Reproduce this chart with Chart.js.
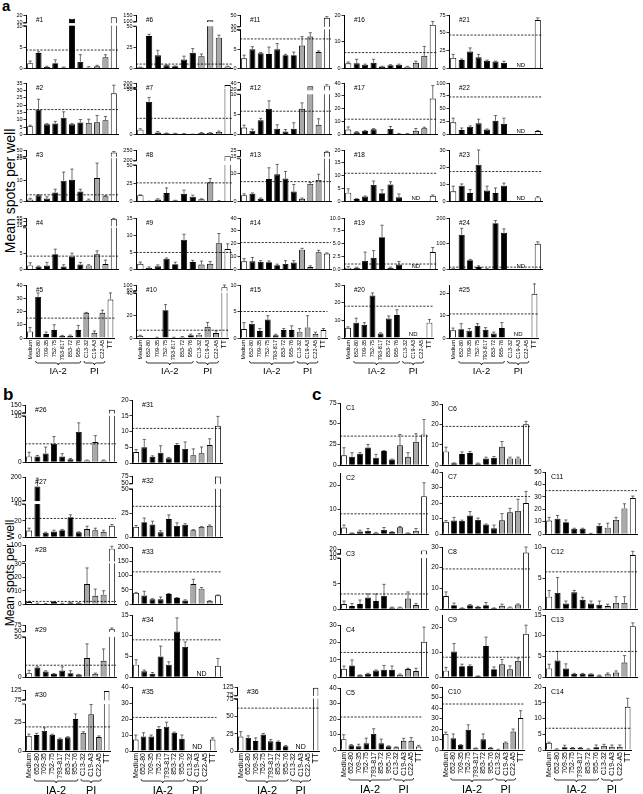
<!DOCTYPE html>
<html><head><meta charset="utf-8">
<script src="https://cdn.jsdelivr.net/npm/chart.js@4.4.1/dist/chart.umd.min.js"></script>
<style>
html,body{margin:0;padding:0;background:#fff;}
body{width:643px;height:794px;position:relative;overflow:hidden;font-family:'Liberation Sans',Arial,Helvetica,sans-serif;color:#000;}
canvas{position:absolute;}
.sec{position:absolute;font-weight:bold;line-height:1;}
.yt{position:absolute;white-space:nowrap;text-align:center;transform:rotate(-90deg);transform-origin:50% 50%;}
</style></head><body>
<div class="sec" style="left:2px;top:-2px;font-size:15px">a</div>
<div class="sec" style="left:3px;top:386px;font-size:17px">b</div>
<div class="sec" style="left:312px;top:386px;font-size:17px">c</div>
<div class="yt" style="left:-62px;top:183px;width:144px;height:16px;line-height:16px;font-size:14px">Mean spots per well</div>
<div class="yt" style="left:-52px;top:566px;width:124px;height:14px;line-height:14px;font-size:12px">Mean spots per well</div>
<script>
// ---------------- data ----------------
const categories = ["Medium","652-80","709-35","752-75","793-817","853-72","955-76","C13-32","C19-A3","C22-A5","TT"];
const groupLabels = ["IA-2","PI"];

// section a
const s1=[1.3,3.7,0.4,1.3,0.3,15,1.6,0.3,0.6,2.7,17],      e1=[0.5,0.3,0.2,0.8,0.1,0,1.7,0.2,0.2,0.6,0];
const s2=[5.8,17,7,7.5,11.5,7,8.3,8,8.5,9.8,28],            e2=[0.6,7,0.5,1.5,4,0.5,2,2.5,4.5,2.5,5.5];
const s3=[1,3,1.5,4.3,9.8,10.2,4.8,0.7,11,2.5,40],          e3=[0.6,0.3,0.8,1.5,4,5,1,0.5,7,0.3,4];
const s4=[1.3,1,1.3,4.7,1,4,1.6,1.3,4.7,1.7,50],            e4=[0.8,0.1,0.9,1.5,0.5,1,0.6,0.2,1,1.2,3];
const s5=[5,31,3,6,1.7,1.7,6,19,3.8,19,29],                 e5=[3,3,1.5,4,0.3,0.5,3.5,0.3,1.5,2,5];
const s6=[1.7,39,16,4,3,11,19,15,110,37,2.5],               e6=[0.3,2,6,0.5,0.3,4,5,2.5,0,3,0.5];
const s7=[5.5,36,2.5,1.5,1.2,1,0.5,1.8,1.8,3,150],          e7=[1,5,1,0.3,0.3,0.3,0.2,0.5,0.5,1,0];
const s8=[9,0.5,3,12,1.5,11,7,3.5,27,1,220],                e8=[0.5,0.3,1,7,0.5,5,2,0.5,5,0.5,0];
const s9=[1.7,0.6,1,3.2,1.6,8.7,2.2,1.5,1.7,7.7,6],         e9=[0.5,0.2,0.4,0.2,0.6,1.6,0.5,1,0.7,2.8,1.5];
const s10=[2,0,0.5,25,0.5,1,2.5,3,10,4.5,85],               e10=[0.5,0,0.2,5,0.2,0.3,1,1,4,2,15];
const s11=[2.7,5,4,3.8,5,3.5,3.5,6,8.3,4.3,45],             e11=[0.8,0.7,0.2,1.8,1.5,0.2,0.8,2.3,1,0.3,2];
const s12=[1.8,1,3.6,6.5,1.5,0.8,1.5,6.5,30,2.5,32],        e12=[0.6,0.4,0.5,2,1,0.5,1.5,1.5,0,1.5,3];
const s13=[2.3,2.8,1,8,9.7,8.2,3.6,1,6.3,7.7,22],           e13=[0.5,0.3,0.3,4,3.5,2.5,2.5,0.3,0.5,2,1];
const s14=[6.5,6.5,6,5.8,3.5,4.5,5.5,15.5,2,13.5,12.5],     e14=[2,3,1,1,0.8,2.5,1.5,1,1,1.5,0.5];
const s15=[1.7,2.7,1.3,3.5,0.5,1.5,1.5,1.2,2,0.8,1.5],      e15=[1.2,0.4,0.5,0.7,0.2,0.3,0.8,0.6,2.2,0.3,0.3];
const s16=[2,2,1.5,2.2,0.8,1.3,1.5,0.7,2.2,4.8,16.3],       e16=[0.5,1.5,0.2,1.3,0.1,0.2,0.2,0.2,0.6,3.5,1.3];
const s17=[4,1.8,3,4.2,0,4.5,0.8,0.8,3,5,28],               e17=[2,0.6,0.3,0.5,0,1.8,0.2,0.2,1.8,0.8,10];
const s18=[3.5,1,2,6.5,3.3,6.7,1.7,null,null,null,2.3],     e18=[1.5,0.2,0.2,1.5,1.3,1,1.3,0,0,0,0.3];
const s19=[0.4,0.4,1.7,2.3,6.3,0.4,1,null,null,null,3.4],   e19=[0.2,0.1,1.7,1.4,2.3,0.1,0.6,0,0,0,0.9];
const s20=[5.8,8.7,7.5,24,2.5,11,13,null,null,null,8.7],    e20=[0.5,2.5,1.2,1.5,0.5,1.5,3,0,0,0,1.8];
const s21=[15,12,24,16,11,10,8,null,null,null,68],          e21=[5,1.5,5,4,1,0.5,2.5,0,0,0,3];
const s22=[24,9,15,22,10,27,21,null,null,null,7],           e22=[8,4,2,8,1,10,11,0,0,0,1];
const s23=[6,9.3,5,21.5,6.5,5,9.3,null,null,null,2.5],      e23=[3,1,2,8.5,2.5,3,1.5,0,0,0,0.5];
const s24=[3,135,37,10,3,180,143,null,null,null,100],       e24=[1,25,3,5,1,10,15,0,0,0,8];
const s25=[3.5,4,3.3,5.5,3.7,2,4.5,null,null,null,20],      e25=[1,2.5,1,1,1,0.7,2.5,0,0,0,4.5];
// section b
const s26=[1.25,1.25,1.9,4,1.25,0.6,6.6,0.35,4.4,0.35,120], e26=[0.9,0.2,1.4,1.6,0.6,0.2,2,0.1,1.4,0.1,0];
const s27=[8,160,5.5,7,8.5,24.5,6,10,8.5,6.5,14],           e27=[3,35,0.5,1.5,1,3,0.5,3.5,2.5,2,1.5];
const s28=[1.5,0.5,0.3,1.5,0.5,1.2,0.8,15,6.2,7,85],        e28=[0.5,0.2,0.1,0.4,0.1,0.3,0.2,12,5,3,10];
const s29=[5,12,7,4,8.3,5,3.2,24,4,20.6,58],                e29=[3.6,1,1,0.5,4.7,3,0.3,18,1,15,5];
const s30=[13,13.8,17.3,14,10.6,11.8,27.6,15.6,31.7,12,120],e30=[1.5,1.5,2.7,0.5,0.5,0.5,4.4,1,9.3,1,0];
const s31=[3.5,5,2,3.3,1.5,5.7,4.5,2.5,3.1,5.7,11.8],       e31=[0.8,2.5,0.3,2.2,0.3,0.5,2.2,2,2,2,3];
const s32=[10.7,15.7,13.3,5,19,11.7,13,7.3,10.7,11.7,73],   e32=[1.5,4.3,3.4,1.7,4.3,3.3,1,0.5,0.5,1,0];
const s33=[39,30,17,17,35,21,13,70,54,11,31],               e33=[2,15,2,8,2,2,2,17,4,1,1];
const s34=[3,1.4,0.8,5,3,11,7.3,null,null,null,2.7],        e34=[1.2,0.3,0.3,2.5,0.7,3.3,1.2,0,0,0,1.8];
const s35=[7.2,9,9,13.7,15.2,11.4,7.6,null,null,null,7.2],  e35=[2.8,2.4,1,1.5,2.8,0.4,2.4,0,0,0,1];
const s36=[21,19,14.5,24,14,13,7,null,null,null,120],       e36=[7,3,4.5,1.5,2.5,1.5,1,0,0,0,0];
// section c
const c1=[11.8,10,13.6,21.4,9,17,6.8,24,10,28,37],          ec1=[9.2,5,1.5,3.6,4,0.7,0.5,13,5,10,18];
const c2=[2.7,0.4,1.1,1.3,0.5,1.7,0.9,2.8,0.4,1.3,15.5],    ec2=[1,0.1,0.5,1,0.2,1,0.1,0.3,0.1,1,5.5];
const c3=[1,0.6,1,2.3,1.6,2.6,0.3,0.3,2.1,0.8,17],          ec3=[0.6,0.5,0.8,0.7,1.4,2.3,0.1,0.1,1.3,0.3,0];
const c4=[4.8,6.7,1,1.9,3.8,4.2,4.2,1.3,4.6,3.5,20.3],      ec4=[1.6,3.2,0.3,0.3,0.3,2.5,2.2,0.5,0.5,1.6,8.5];
const c5=[7,3,2.4,4.3,10.4,4.3,2.4,1.7,5.9,5.9,2.2],        ec5=[2.8,0.5,1.3,3.3,3.3,2.7,0.3,0.3,1.7,2.1,0.8];
const c6=[6.7,0.9,5.4,5.9,0.8,3.3,3.6,9,3.3,3.3,20],        ec6=[2.1,0.2,1.1,0.8,0.2,0.6,0.6,2.6,0.6,0.6,1.5];
const c7=[7.9,8.7,8.5,12,9.1,6.2,3.7,8.9,14,14.9,20],       ec7=[0.8,2.1,0.5,2.5,1.2,0.3,2.1,4.3,2.6,7.5,7.5];
const c8=[6.3,1.9,0.5,1.9,1,1.9,0.5,1.6,0.8,2.2,27.3],      ec8=[2,1,0.1,0.3,0.3,1.3,0.1,0.8,0.2,0.3,2.7];
const c9=[2.6,10.3,4.4,4.5,0.4,12.5,3.2,5.2,3.2,6.5,17.4],  ec9=[1.3,3.2,0.8,0.4,0.1,3.6,0.9,1.9,1.3,1.2,3.5];
const c10=[15.3,11.2,4.8,19.2,1.6,10.2,2.2,0.6,7,17.6,30.4],ec10=[1.7,4.1,0.3,4.8,0.3,5.1,0.3,0.1,0.6,2.4,7];
const c11=[10.9,12.4,9.6,4.4,4.4,0.5,6.7,5.2,11.4,20.7,29], ec11=[2.6,2.6,1.8,0.3,0.3,0.1,1.6,3.6,2.1,3.7,1.6];
const c12=[2,2.6,0.9,2.7,1.5,0.9,0.7,0.5,1,1,8.7],          ec12=[1,2.5,0.4,0.3,0.4,0.4,0.6,0.3,1,1,0.6];
const c13=[2.1,4,2.1,0.8,0.8,0.7,0.4,0.7,1.1,3.5,12.3],     ec13=[1,2.2,1.1,0.1,0.1,0.1,0.1,0.3,0.4,1.7,0.8];
const c14=[2.3,0.3,0.9,0.7,0.7,0.3,0.9,1.3,1,1,13.7],       ec14=[0.2,0.1,0.6,0.1,0.1,0.1,0.7,0.5,0.6,0.6,2.7];

// thresholds (dashed lines)
const thresholds = {"#1":4.4,"#2":17,"#3":3.2,"#4":4.1,"#5":15,"#6":5.5,"#7":18,"#8":26,"#9":5,"#10":7,
 "#11":7.7,"#12":5.9,"#13":7.1,"#14":21,"#15":5,"#16":6,"#17":12,"#18":11,"#19":1.1,"#20":18,
 "#21":47,"#22":73,"#23":17.5,"#24":10,"#25":10.9,"#26":4,"#27":23,"#28":2,"#29":15,"#30":20.8,
 "#31":11,"#32":32.3,"#33":113,"#34":9,"#35":21,"#36":62,
 "C1":35,"C2":8.3,"C3":3,"C4":14.2,"C5":21.3,"C6":19,"C7":24.2,"C8":19.4,"C9":8,"C10":43.8,
 "C11":35,"C12":6,"C13":6.2,"C14":6.9};

// y tick values (lower segment) and upper segment of broken axes
const t0_10_20=[0,10,20], t0_40=[0,10,20,30,40];
const panels = [
 {name:"#1", v:s1, e:e1, ticks:[0,5,10], up:[10,20], lowerMax:10, lf:.79, gf:.07},
 {name:"#2", v:s2, e:e2, ticks:[0,5,10,15,20,25,30,35]},
 {name:"#3", v:s3, e:e3, ticks:[0,10,20], up:[25,50], lowerMax:20, upperMin:25, lf:.83, gf:.05},
 {name:"#4", v:s4, e:e4, ticks:[0,5], up:[15,35,55], lowerMax:12.5, upperMin:15, lf:.8, gf:.05},
 {name:"#5", v:s5, e:e5, ticks:t0_40},
 {name:"#6", v:s6, e:e6, ticks:[0,25,50], up:[100,150], lowerMax:50, upperMin:100, lf:.78, gf:.1},
 {name:"#7", v:s7, e:e7, ticks:[0,50], up:[100,200], lowerMax:50, upperMin:100, lf:.88, gf:.04},
 {name:"#8", v:s8, e:e8, ticks:[0,25,50], up:[200,250], lowerMax:50, upperMin:200, lf:.7, gf:.1},
 {name:"#9", v:s9, e:e9, ticks:[0,5,10,15]},
 {name:"#10", v:s10, e:e10, ticks:[0,20,40], up:[60,100], lowerMax:40, upperMin:60, lf:.84, gf:.05},
 {name:"#11", v:s11, e:e11, ticks:[0,5,10], up:[30,50], lowerMax:10, upperMin:30, lf:.72, gf:.07},
 {name:"#12", v:s12, e:e12, ticks:[0,5,10], up:[20,40], lowerMax:10, upperMin:20, lf:.77, gf:.1},
 {name:"#13", v:s13, e:e13, ticks:[0,10], up:[15,25], lowerMax:15, lf:.82, gf:.06},
 {name:"#14", v:s14, e:e14, ticks:t0_40},
 {name:"#15", v:s15, e:e15, ticks:[0,5,10]},
 {name:"#16", v:s16, e:e16, ticks:t0_10_20},
 {name:"#17", v:s17, e:e17, ticks:t0_40},
 {name:"#18", v:s18, e:e18, ticks:[0,5,10,15,20], nd:true},
 {name:"#19", v:s19, e:e19, ticks:[0,2.5,5,7.5,10], nd:true, fmt:v=>v.toFixed(1)},
 {name:"#20", v:s20, e:e20, ticks:[0,10,20,30], nd:true},
 {name:"#21", v:s21, e:e21, ticks:[0,25,50,75], nd:true},
 {name:"#22", v:s22, e:e22, ticks:[0,25,50,75,100], nd:true},
 {name:"#23", v:s23, e:e23, ticks:[0,10,20,30], nd:true},
 {name:"#24", v:s24, e:e24, ticks:[0,100,200], nd:true},
 {name:"#25", v:s25, e:e25, ticks:t0_10_20, max:24, nd:true},
 {name:"#26", v:s26, e:e26, ticks:[0,10], up:[100,150], lowerMax:10, upperMin:100, lf:.8, gf:.06},
 {name:"#27", v:s27, e:e27, ticks:[0,20,40], up:[100,200], lowerMax:40, upperMin:100, lf:.54, gf:.07},
 {name:"#28", v:s28, e:e28, ticks:[0,10,20,30], up:[100], lowerMax:30, upperMin:35, lf:.68, gf:.05},
 {name:"#29", v:s29, e:e29, ticks:[0,50], up:[50,75], lowerMax:50, lf:.76, gf:.12},
 {name:"#30", v:s30, e:e30, ticks:[0,25], up:[75,125], lowerMax:40, upperMin:75, lf:.76, gf:.08},
 {name:"#31", v:s31, e:e31, ticks:[0,5,10,15,20]},
 {name:"#32", v:s32, e:e32, ticks:[0,25,50], up:[50,75], lowerMax:50, lf:.78, gf:.1},
 {name:"#33", v:s33, e:e33, ticks:[0,50,100,150,200]},
 {name:"#34", v:s34, e:e34, ticks:[0,5,10,15], nd:true},
 {name:"#35", v:s35, e:e35, ticks:t0_40, nd:true},
 {name:"#36", v:s36, e:e36, ticks:[0,25,50,75], up:[75,125], lowerMax:75, lf:.81, gf:.06, nd:true},
 {name:"C1", v:c1, e:ec1, ticks:[0,25,50,75]},
 {name:"C2", v:c2, e:ec2, ticks:t0_10_20, max:25},
 {name:"C3", v:c3, e:ec3, ticks:[0,5,10], up:[10,20], lowerMax:10, lf:.84, gf:.08},
 {name:"C4", v:c4, e:ec4, ticks:[0,10,20,30]},
 {name:"C5", v:c5, e:ec5, ticks:t0_40},
 {name:"C6", v:c6, e:ec6, ticks:[0,10,20,30]},
 {name:"C7", v:c7, e:ec7, ticks:t0_40},
 {name:"C8", v:c8, e:ec8, ticks:[0,10,20,30]},
 {name:"C9", v:c9, e:ec9, ticks:t0_10_20, max:25},
 {name:"C10", v:c10, e:ec10, ticks:[0,10,20,30,40,50,60]},
 {name:"C11", v:c11, e:ec11, ticks:[0,10,20,30,40,50]},
 {name:"C12", v:c12, e:ec12, ticks:[0,5,10]},
 {name:"C13", v:c13, e:ec13, ticks:[0,5,10,15]},
 {name:"C14", v:c14, e:ec14, ticks:[0,5,10,15,20]}
];

// ---------------- layout (plot-area boxes) ----------------
const layout = {};
const aCols=[[26,118],[136,232],[240,331],[344,437],[449,542]];
const aRows=[[15,71],[83,137],[150,204],[218,272],[285,338]];
for (let i=1;i<=25;i++){ const c=aCols[Math.floor((i-1)/5)], r=aRows[(i-1)%5];
  layout['#'+i]={sec:'a',x0:c[0],x1:c[1],yT:r[0],yB:r[1],bottom:i%5===0}; }
const bc = {'#26':[25,116,405,465],'#27':[25,116,477,540],'#28':[25,116,545,607],'#29':[25,116,625,680],'#30':[25,116,690,751],
 '#31':[132,222,400,466],'#32':[132,222,476,540],'#33':[132,222,547,607],'#34':[132,222,615,680],'#35':[132,222,687,751],
 '#36':[237,325,687,751],
 'C1':[340,428,403,468],'C2':[340,428,473,537],'C3':[340,428,549,612],'C4':[340,428,625,680],'C5':[340,428,688,750],
 'C6':[442,530,404,468],'C7':[442,530,472,537],'C8':[442,530,547,612],'C9':[442,530,615,680],'C10':[442,530,687,750],
 'C11':[545,637,472,537],'C12':[545,637,547,612],'C13':[545,637,615,680],'C14':[545,637,687,750]};
const bottoms = ['#30','#35','#36','C5','C10','C14'];
for (const k in bc){ const b=bc[k]; layout[k]={sec:k[0]==='C'?'c':'b',x0:b[0],x1:b[1],yT:b[2],yB:b[3],bottom:bottoms.includes(k)}; }

// ---------------- rendering ----------------
const FONT = "'Liberation Sans', Arial, Helvetica, sans-serif";
Chart.defaults.font.family = FONT;
Chart.defaults.color = '#000';
const barColors = ['#ffffff','#000000','#000000','#000000','#000000','#000000','#000000','#a9a9a9','#a9a9a9','#a9a9a9','#ffffff'];
const PANEL = new WeakMap();

class BrokenScale extends Chart.LinearScale {
  static id = 'broken';
  static defaults = {};
  buildTicks() {
    const p = PANEL.get(this.chart.canvas);
    const t = p.ticks.map(v => ({value: v}));
    if (p.up) p.up.forEach(v => t.push({value: v <= p.lowerMax ? v + 1e-6 : v}));
    return t;
  }
  getPixelForValue(value) {
    const p = PANEL.get(this.chart.canvas);
    if (!p || !p.up) return super.getPixelForValue(value);
    if (value === null || value === undefined) return NaN;
    const b = this.bottom, h = this.bottom - this.top;
    const lh = h * p.lf, gh = h * p.gf, uh = h - lh - gh;
    if (value <= p.lowerMax) return b - (value / p.lowerMax) * lh;
    if (value < p.upperMin) return b - lh - (value - p.lowerMax) / (p.upperMin - p.lowerMax) * gh;
    return b - lh - gh - Math.min(1, (value - p.upperMin) / (p.max - p.upperMin)) * uh;
  }
}
Chart.register(BrokenScale);

function brace(ctx, x1, x2, y) {
  const m = (x1 + x2) / 2, d = 2;
  ctx.beginPath();
  ctx.moveTo(x1, y - d);
  ctx.quadraticCurveTo(x1, y, x1 + d, y);
  ctx.lineTo(m - d, y);
  ctx.quadraticCurveTo(m, y, m, y + d);
  ctx.quadraticCurveTo(m, y, m + d, y);
  ctx.lineTo(x2 - d, y);
  ctx.quadraticCurveTo(x2, y, x2, y - d);
  ctx.stroke();
}

const deco = {
  id: 'deco',
  afterDatasetsDraw(chart) {
    const p = PANEL.get(chart.canvas);
    const ctx = chart.ctx, ys = chart.scales.y, ca = chart.chartArea;
    const meta = chart.getDatasetMeta(0);
    ctx.save();
    if (p.up) {
      const h = ca.bottom - ca.top, lh = h * p.lf, gh = h * p.gf;
      const g1 = ca.bottom - lh, g0 = g1 - gh;
      ctx.fillStyle = '#fff';
      ctx.fillRect(ca.left - 1.5, g0 + 0.6, ca.right - ca.left + 3, gh - 1.2);
      ctx.strokeStyle = '#000'; ctx.lineWidth = 0.8;
      ctx.beginPath();
      ctx.moveTo(ca.left - 3, g0 + 0.6); ctx.lineTo(ca.left + 0.5, g0 + 0.6);
      ctx.moveTo(ca.left - 3, g1 - 0.6); ctx.lineTo(ca.left + 0.5, g1 - 0.6);
      ctx.stroke();
    }
    // error bars
    ctx.strokeStyle = '#333'; ctx.lineWidth = 0.7;
    meta.data.forEach((bar, i) => {
      const v = p.v[i], e = p.e[i];
      if (v === null || !e) return;
      const y0 = ys.getPixelForValue(v), y1 = ys.getPixelForValue(v + e);
      ctx.beginPath();
      ctx.moveTo(bar.x, y0); ctx.lineTo(bar.x, y1);
      ctx.moveTo(bar.x - 1.6, y1); ctx.lineTo(bar.x + 1.6, y1);
      ctx.stroke();
    });
    // threshold
    const ty = ys.getPixelForValue(thresholds[p.name]);
    ctx.strokeStyle = '#000'; ctx.lineWidth = 0.8; ctx.setLineDash([2.2, 1.4]);
    ctx.beginPath(); ctx.moveTo(ca.left, ty); ctx.lineTo(ca.right, ty); ctx.stroke();
    ctx.setLineDash([]);
    // texts
    ctx.fillStyle = '#000';
    ctx.textBaseline = 'middle';
    if (p.nd) {
      ctx.font = (p.isA ? 6 : 7) + 'px ' + FONT;
      ctx.textAlign = 'center';
      ctx.fillText('ND', chart.scales.x.getPixelForValue(8), ca.bottom - 3.5);
    }
    ctx.textAlign = 'left';
    ctx.font = (p.isA ? 6.5 : 7) + 'px ' + FONT;
    ctx.fillText(p.name, ca.left + (p.name[0] === 'C' ? 6 : 10), ca.top + 5);
    ctx.restore();
  },
  afterDraw(chart) {
    const p = PANEL.get(chart.canvas);
    if (!p.L.bottom) return;
    const ctx = chart.ctx, xs = chart.scales.x, ca = chart.chartArea;
    ctx.save();
    ctx.strokeStyle = '#000'; ctx.lineWidth = 0.8; ctx.fillStyle = '#000';
    const by = ca.bottom + p.XH + 2;
    const groups = [[1, 6], [7, 9]];
    ctx.font = (p.isA ? 9.5 : 11) + 'px ' + FONT;
    ctx.textAlign = 'center'; ctx.textBaseline = 'middle';
    groups.forEach((g, k) => {
      const x1 = xs.getPixelForValue(g[0]) - 2.5, x2 = xs.getPixelForValue(g[1]) + 2.5;
      brace(ctx, x1, x2, by);
      ctx.fillText(groupLabels[k], (x1 + x2) / 2, by + (p.isA ? 8.5 : 10));
    });
    ctx.restore();
  }
};

function build(p) {
  const L = layout[p.name];
  const isA = L.sec === 'a';
  const YW = 22, PT = 5, PR = 3;
  const XH = L.bottom ? (isA ? 23 : 28) : 0;
  const EX = L.bottom ? (isA ? 17 : 15) : 2;
  const W = L.x1 - L.x0 + YW + PR, H = L.yB - L.yT + PT + XH + EX;
  const cv = document.createElement('canvas');
  cv.width = W; cv.height = H;
  cv.style.left = (L.x0 - YW) + 'px'; cv.style.top = (L.yT - PT) + 'px';
  cv.style.width = W + 'px'; cv.style.height = H + 'px';
  document.body.appendChild(cv);
  const cfg = Object.assign({}, p);
  cfg.max = p.max !== undefined ? p.max : (p.up ? p.up[p.up.length - 1] : p.ticks[p.ticks.length - 1]);
  cfg.upperMin = p.upperMin !== undefined ? p.upperMin : p.lowerMax;
  const fmt = p.fmt || (v => String(v));
  cfg.tickLabels = p.ticks.concat(p.up || []).map(fmt);
  cfg.L = L; cfg.XH = XH; cfg.isA = isA;
  PANEL.set(cv, cfg);
  new Chart(cv, {
    type: 'bar',
    data: { labels: categories, datasets: [{ data: p.v, backgroundColor: barColors, borderColor: '#000',
      borderWidth: 0.9, barPercentage: 0.72, categoryPercentage: 1 }] },
    options: {
      responsive: false, animation: false, devicePixelRatio: 1, events: [],
      layout: { padding: { top: PT, right: PR, bottom: EX, left: 0 } },
      plugins: { legend: { display: false }, tooltip: { enabled: false } },
      scales: {
        x: { type: 'category', offset: true, grid: { display: false, drawTicks: false, tickLength: 0 },
             border: { display: true, color: '#000', width: 1 },
             ticks: { display: L.bottom, autoSkip: false, minRotation: 90, maxRotation: 90, padding: 2, color: '#000',
                      font: c => ({ size: c.index === 10 ? (isA ? 7 : 8.5) : (isA ? 5.5 : 7), family: FONT }) },
             afterFit: s => { s.height = XH; } },
        y: { type: 'broken', min: 0, max: cfg.max,
             grid: { display: true, drawOnChartArea: false, drawTicks: true, tickLength: 2.5, color: '#000', lineWidth: 0.8 },
             border: { display: true, color: '#000', width: 1 },
             ticks: { autoSkip: false, padding: 1, color: '#000', font: { size: isA ? 5.5 : 6.5, family: FONT },
                      callback: (v, i) => cfg.tickLabels[i] },
             afterFit: s => { s.width = YW; } }
      }
    },
    plugins: [deco]
  });
}
panels.forEach(build);
</script>
</body></html>
